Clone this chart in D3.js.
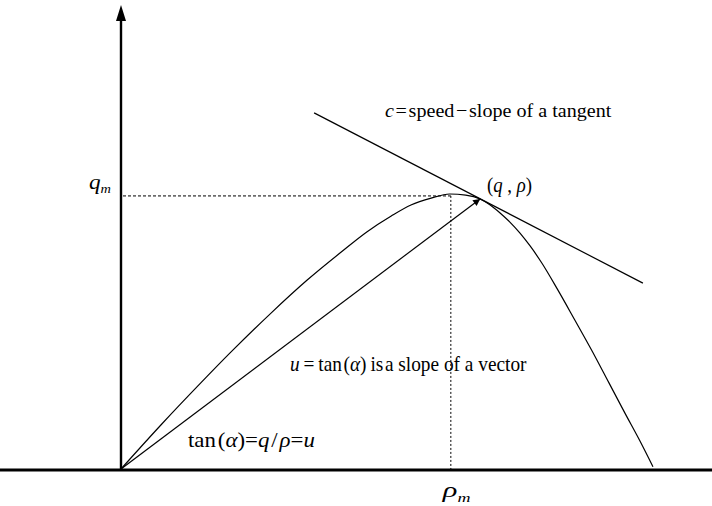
<!DOCTYPE html>
<html>
<head>
<meta charset="utf-8">
<script src="https://cdn.jsdelivr.net/npm/d3@7"></script>
<style>
  html, body { margin: 0; padding: 0; background: #fff; }
  svg { display: block; }
</style>
</head>
<body>
<svg id="chart" width="712" height="506"></svg>
<script>
// Flow–density curve (normalised: density / jam density, flow / max flow)
const curveRho = [0, 0.075, 0.150, 0.205, 0.282, 0.350, 0.414, 0.462, 0.508, 0.545, 0.583,
                  0.618, 0.648, 0.675, 0.694, 0.712, 0.731, 0.750, 0.769, 0.791, 0.820,
                  0.853, 0.885, 0.917, 0.947, 0.976, 1.0];
const curveQ   = [0, 0.160, 0.313, 0.422, 0.567, 0.687, 0.789, 0.862, 0.920, 0.960, 0.985,
                  1.0, 0.996, 0.982, 0.960, 0.932, 0.898, 0.858, 0.811, 0.749, 0.655,
                  0.542, 0.431, 0.314, 0.204, 0.100, 0.008];

// Operating point (q, rho) and the tangent through it
const pointRho = 0.675;
const pointQ = 0.982;
const tangentRho = [0.363, 0.981];
const tangentQ = [1.295, 0.676];

// Capacity and critical density
const qM = 0.993;
const rhoM = 0.620;

const FONT = "Liberation Serif";

const svg = d3.select("#chart");

const x = d3.scaleLinear().domain([0, 1]).range([121, 653]);
const y = d3.scaleLinear().domain([0, 1]).range([469, 194]);

const defs = svg.append("defs");
defs.append("marker")
  .attr("id", "head")
  .attr("viewBox", "0 0 10 10")
  .attr("refX", 10).attr("refY", 5)
  .attr("markerWidth", 9).attr("markerHeight", 7)
  .attr("markerUnits", "userSpaceOnUse")
  .attr("orient", "auto")
  .append("path").attr("d", "M0,0 L10,5 L0,10 Z").attr("fill", "#000");

// Axes
svg.append("line")
  .attr("x1", 0).attr("x2", 712)
  .attr("y1", y(0) + 1).attr("y2", y(0) + 1)
  .attr("stroke", "#000").attr("stroke-width", 3);
svg.append("line")
  .attr("x1", x(0)).attr("x2", x(0))
  .attr("y1", y(0) + 2).attr("y2", 18)
  .attr("stroke", "#000").attr("stroke-width", 2.4);
svg.append("path")
  .attr("d", `M${x(0)},5 L${x(0) - 5},21 L${x(0) + 5},21 Z`)
  .attr("fill", "#000");

// Capacity guide lines
svg.append("line")
  .attr("x1", x(0) + 2).attr("x2", x(rhoM))
  .attr("y1", y(qM)).attr("y2", y(qM))
  .attr("stroke", "#000").attr("stroke-width", 1)
  .attr("stroke-dasharray", "3,2");
svg.append("line")
  .attr("x1", x(rhoM)).attr("x2", x(rhoM))
  .attr("y1", y(qM)).attr("y2", y(0))
  .attr("stroke", "#000").attr("stroke-width", 1)
  .attr("stroke-dasharray", "2,2");

// Fundamental diagram curve
const pts = curveRho.map((r, i) => [r, curveQ[i]]);
svg.append("path")
  .datum(pts)
  .attr("d", d3.line().x(d => x(d[0])).y(d => y(d[1])).curve(d3.curveMonotoneX))
  .attr("fill", "none").attr("stroke", "#000").attr("stroke-width", 1.2);

// Tangent
svg.append("line")
  .attr("x1", x(tangentRho[0])).attr("y1", y(tangentQ[0]))
  .attr("x2", x(tangentRho[1])).attr("y2", y(tangentQ[1]))
  .attr("stroke", "#000").attr("stroke-width", 1.2);

// Speed vector from origin to the operating point
svg.append("line")
  .attr("x1", x(0)).attr("y1", y(0))
  .attr("x2", x(pointRho)).attr("y2", y(pointQ))
  .attr("stroke", "#000").attr("stroke-width", 1.2)
  .attr("marker-end", "url(#head)");

// Labels: equation-style text, widened horizontally to the given width
function label(px, py, size, width, parts) {
  const t = svg.append("text")
    .attr("x", px).attr("y", py)
    .attr("font-size", size)
    .attr("font-family", FONT)
    .attr("fill", "#000");
  parts.forEach(p => {
    const s = t.append("tspan").text(p[0]);
    if (p[1]) s.attr("font-style", "italic");
    if (p[2]) s.attr("font-size", p[2]);
    if (p[3]) s.attr("dy", p[3]);
  });
  const w = t.node().getBBox().width;
  if (width && w > 0) {
    const sx = width / w;
    t.attr("transform", `translate(${px},0) scale(${sx},1) translate(${-px},0)`);
  }
  return t;
}

const TS = "\u2009"; // thin space
const HS = "\u200A"; // hair space
label(89, y(qM) - 7, 21, 22, [["q", true], ["m", true, 13, 4]]);
label(x(rhoM) - 8, 497, 22, 29, [["ρ", true], ["m", true, 13, 5]]);
label(385, 117, 19.5, 227, [["c", true], [HS + "=" + HS + "speed" + HS + "\u2212" + HS + "slope of a tangent"]]);
label(487, 192, 22, 45, [["(", false], ["q", true], [" , "], ["ρ", true], [")"]]);
label(290, 371, 20, 237, [["u", true], [TS + "=" + TS + "tan" + HS + "(", false], ["α", true], [")" + TS + "is" + HS + "a slope of a vector"]]);
label(188, 447, 20, 127, [["tan" + HS + "(", false], ["α", true], [")="], ["q", true], [HS + "/" + HS], ["ρ", true], ["="], ["u", true]]);
</script>
</body>
</html>
